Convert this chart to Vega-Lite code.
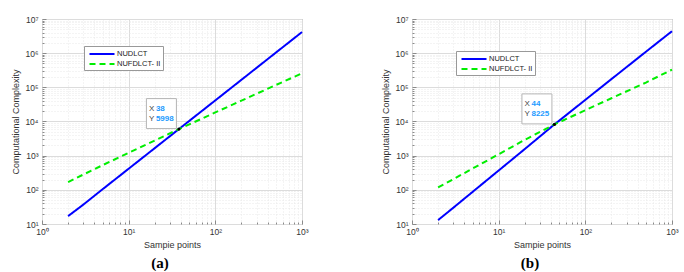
{
  "$schema": "https://vega.github.io/schema/vega-lite/v6.json",
  "padding": {"left": 11, "top": 14, "right": 0, "bottom": 0},
  "background": "white",
  "datasets": {
    "curves": [
      {"panel": "a", "series": "NUDLCT", "n": 2, "c": 17},
      {"panel": "a", "series": "NUDLCT", "n": 3, "c": 37},
      {"panel": "a", "series": "NUDLCT", "n": 5, "c": 104},
      {"panel": "a", "series": "NUDLCT", "n": 10, "c": 415},
      {"panel": "a", "series": "NUDLCT", "n": 20, "c": 1660},
      {"panel": "a", "series": "NUDLCT", "n": 38, "c": 5998},
      {"panel": "a", "series": "NUDLCT", "n": 50, "c": 10400},
      {"panel": "a", "series": "NUDLCT", "n": 100, "c": 41500},
      {"panel": "a", "series": "NUDLCT", "n": 200, "c": 166000},
      {"panel": "a", "series": "NUDLCT", "n": 500, "c": 1040000},
      {"panel": "a", "series": "NUDLCT", "n": 1000, "c": 4150000},
      {"panel": "a", "series": "NUFDLCT- II", "n": 2, "c": 168},
      {"panel": "a", "series": "NUFDLCT- II", "n": 3, "c": 280},
      {"panel": "a", "series": "NUFDLCT- II", "n": 5, "c": 526},
      {"panel": "a", "series": "NUFDLCT- II", "n": 10, "c": 1210},
      {"panel": "a", "series": "NUFDLCT- II", "n": 20, "c": 2780},
      {"panel": "a", "series": "NUFDLCT- II", "n": 38, "c": 5998},
      {"panel": "a", "series": "NUFDLCT- II", "n": 50, "c": 8200},
      {"panel": "a", "series": "NUFDLCT- II", "n": 100, "c": 18400},
      {"panel": "a", "series": "NUFDLCT- II", "n": 200, "c": 40800},
      {"panel": "a", "series": "NUFDLCT- II", "n": 500, "c": 117000},
      {"panel": "a", "series": "NUFDLCT- II", "n": 1000, "c": 257000},
      {"panel": "b", "series": "NUDLCT", "n": 2, "c": 13},
      {"panel": "b", "series": "NUDLCT", "n": 3, "c": 30},
      {"panel": "b", "series": "NUDLCT", "n": 5, "c": 87},
      {"panel": "b", "series": "NUDLCT", "n": 10, "c": 368},
      {"panel": "b", "series": "NUDLCT", "n": 20, "c": 1560},
      {"panel": "b", "series": "NUDLCT", "n": 44, "c": 8225},
      {"panel": "b", "series": "NUDLCT", "n": 50, "c": 10600},
      {"panel": "b", "series": "NUDLCT", "n": 100, "c": 43000},
      {"panel": "b", "series": "NUDLCT", "n": 200, "c": 174000},
      {"panel": "b", "series": "NUDLCT", "n": 500, "c": 1100000},
      {"panel": "b", "series": "NUDLCT", "n": 1000, "c": 4400000},
      {"panel": "b", "series": "NUFDLCT- II", "n": 2, "c": 118},
      {"panel": "b", "series": "NUFDLCT- II", "n": 3, "c": 205},
      {"panel": "b", "series": "NUFDLCT- II", "n": 5, "c": 420},
      {"panel": "b", "series": "NUFDLCT- II", "n": 10, "c": 1100},
      {"panel": "b", "series": "NUFDLCT- II", "n": 20, "c": 2900},
      {"panel": "b", "series": "NUFDLCT- II", "n": 44, "c": 8225},
      {"panel": "b", "series": "NUFDLCT- II", "n": 50, "c": 9500},
      {"panel": "b", "series": "NUFDLCT- II", "n": 100, "c": 21500},
      {"panel": "b", "series": "NUFDLCT- II", "n": 200, "c": 48000},
      {"panel": "b", "series": "NUFDLCT- II", "n": 500, "c": 138000},
      {"panel": "b", "series": "NUFDLCT- II", "n": 1000, "c": 330000}
    ],
    "tips": [
      {"panel": "a", "n": 38, "c": 5998, "xs": "38", "ys": "5998"},
      {"panel": "b", "n": 44, "c": 8225, "xs": "44", "ys": "8225"}
    ]
  },
  "spacing": 72,
  "resolve": {
    "scale": {"color": "independent", "strokeDash": "independent"},
    "legend": {"color": "independent", "strokeDash": "independent"}
  },
  "config": {
    "view": {"stroke": "#8a8a8a", "strokeWidth": 1},
    "axis": {
      "labelFont": "Liberation Sans",
      "labelFontSize": 8.5,
      "labelColor": "#333333",
      "titleFont": "Liberation Sans",
      "titleFontSize": 9,
      "titleFontWeight": "normal",
      "titleColor": "#333333",
      "domain": false,
      "tickColor": "#8a8a8a",
      "labelOverlap": false,
      "labelFlush": false,
      "labelBound": false
    },
    "legend": {
      "orient": "none",
      "symbolType": "M-0.5,0H4.5",
      "symbolSize": 100,
      "symbolStrokeWidth": 2,
      "symbolFillColor": "transparent",
      "labelFont": "Liberation Sans",
      "labelFontSize": 7.5,
      "labelColor": "#222222",
      "labelOffset": 19,
      "rowPadding": 0,
      "padding": 2,
      "strokeColor": "#999999",
      "fillColor": "white",
      "cornerRadius": 0,
      "title": null
    }
  },
  "hconcat": [
    {
      "width": 260,
      "height": 205,
      "title": {"text": "(a)", "orient": "bottom", "anchor": "middle", "font": "Liberation Serif", "fontSize": 15, "fontWeight": "bold", "color": "#000000", "offset": 6, "dx": -12},
      "encoding": {
        "x": {"field": "n", "type": "quantitative",
          "scale": {"type": "log", "domain": [1, 1000], "nice": false},
          "axis": {"title": "Sampie points", "titlePadding": 3,
            "values": [1,2,3,4,5,6,7,8,9,10,20,30,40,50,60,70,80,90,100,200,300,400,500,600,700,800,900,1000],
            "labelExpr": "abs(log(datum.value)/LN10 - round(log(datum.value)/LN10)) < 0.001 ? '10' + ['⁰','¹','²','³','⁴','⁵','⁶','⁷'][round(log(datum.value)/LN10)] : ''",
            "gridColor": {"condition": {"test": "abs(log(datum.value)/LN10 - round(log(datum.value)/LN10)) < 0.001", "value": "#dcdcdc"}, "value": "#e8e8e8"},
            "gridDash": {"condition": {"test": "abs(log(datum.value)/LN10 - round(log(datum.value)/LN10)) < 0.001", "value": []}, "value": [1, 2]},
            "tickSize": {"condition": {"test": "abs(log(datum.value)/LN10 - round(log(datum.value)/LN10)) < 0.001", "value": -4}, "value": -2},
            "labelPadding": 7}},
        "y": {"field": "c", "type": "quantitative",
          "scale": {"type": "log", "domain": [10, 10000000], "nice": false},
          "axis": {"title": "Computational Complexity", "titlePadding": 4,
            "values": [10,20,30,40,50,60,70,80,90,100,200,300,400,500,600,700,800,900,1000,2000,3000,4000,5000,6000,7000,8000,9000,10000,20000,30000,40000,50000,60000,70000,80000,90000,100000,200000,300000,400000,500000,600000,700000,800000,900000,1000000,2000000,3000000,4000000,5000000,6000000,7000000,8000000,9000000,10000000],
            "labelExpr": "abs(log(datum.value)/LN10 - round(log(datum.value)/LN10)) < 0.001 ? '10' + ['⁰','¹','²','³','⁴','⁵','⁶','⁷'][round(log(datum.value)/LN10)] : ''",
            "gridColor": {"condition": {"test": "abs(log(datum.value)/LN10 - round(log(datum.value)/LN10)) < 0.001", "value": "#dcdcdc"}, "value": "#e8e8e8"},
            "gridDash": {"condition": {"test": "abs(log(datum.value)/LN10 - round(log(datum.value)/LN10)) < 0.001", "value": []}, "value": [1, 2]},
            "tickSize": {"condition": {"test": "abs(log(datum.value)/LN10 - round(log(datum.value)/LN10)) < 0.001", "value": -4}, "value": -2},
            "labelPadding": 8}}
      },
      "layer": [
        {
          "data": {"name": "curves"},
          "transform": [{"filter": "datum.panel == 'a'"}],
          "mark": {"type": "line", "strokeWidth": 2},
          "encoding": {
            "color": {"field": "series", "type": "nominal", "scale": {"domain": ["NUDLCT", "NUFDLCT- II"], "range": ["#0000ff", "#00ee00"]}, "legend": {"legendX": 42, "legendY": 27}},
            "strokeDash": {"field": "series", "type": "nominal", "scale": {"domain": ["NUDLCT", "NUFDLCT- II"], "range": [[1, 0], [6, 4]]}, "legend": {"legendX": 42, "legendY": 27}}
          }
        },
        {
          "data": {"name": "tips"},
          "transform": [{"filter": "datum.panel == 'a'"}],
          "mark": {"type": "point", "shape": "square", "size": 900, "filled": true, "fill": "#ffffff", "stroke": "#b5b5b5", "strokeWidth": 1, "opacity": 1, "xOffset": -17.5, "yOffset": -15.5}
        },
        {
          "data": {"name": "tips"},
          "transform": [{"filter": "datum.panel == 'a'"}],
          "mark": {"type": "point", "shape": "circle", "size": 10, "filled": true, "color": "#000000", "opacity": 1}
        },
        {
          "data": {"name": "tips"},
          "transform": [{"filter": "datum.panel == 'a'"}],
          "mark": {"type": "text", "align": "left", "baseline": "middle", "font": "Liberation Sans", "fontSize": 8, "color": "#444444", "dx": -30, "dy": -20, "text": "X"}
        },
        {
          "data": {"name": "tips"},
          "transform": [{"filter": "datum.panel == 'a'"}],
          "mark": {"type": "text", "align": "left", "baseline": "middle", "font": "Liberation Sans", "fontSize": 8, "color": "#444444", "dx": -30, "dy": -10, "text": "Y"}
        },
        {
          "data": {"name": "tips"},
          "transform": [{"filter": "datum.panel == 'a'"}],
          "mark": {"type": "text", "align": "left", "baseline": "middle", "font": "Liberation Sans", "fontSize": 8, "fontWeight": "bold", "color": "#1e9bff", "dx": -23, "dy": -20},
          "encoding": {"text": {"field": "xs"}}
        },
        {
          "data": {"name": "tips"},
          "transform": [{"filter": "datum.panel == 'a'"}],
          "mark": {"type": "text", "align": "left", "baseline": "middle", "font": "Liberation Sans", "fontSize": 8, "fontWeight": "bold", "color": "#1e9bff", "dx": -23, "dy": -10},
          "encoding": {"text": {"field": "ys"}}
        }
      ]
    },
    {
      "width": 260,
      "height": 205,
      "title": {"text": "(b)", "orient": "bottom", "anchor": "middle", "font": "Liberation Serif", "fontSize": 15, "fontWeight": "bold", "color": "#000000", "offset": 6, "dx": -12},
      "encoding": {
        "x": {"field": "n", "type": "quantitative",
          "scale": {"type": "log", "domain": [1, 1000], "nice": false},
          "axis": {"title": "Sampie points", "titlePadding": 3,
            "values": [1,2,3,4,5,6,7,8,9,10,20,30,40,50,60,70,80,90,100,200,300,400,500,600,700,800,900,1000],
            "labelExpr": "abs(log(datum.value)/LN10 - round(log(datum.value)/LN10)) < 0.001 ? '10' + ['⁰','¹','²','³','⁴','⁵','⁶','⁷'][round(log(datum.value)/LN10)] : ''",
            "gridColor": {"condition": {"test": "abs(log(datum.value)/LN10 - round(log(datum.value)/LN10)) < 0.001", "value": "#dcdcdc"}, "value": "#e8e8e8"},
            "gridDash": {"condition": {"test": "abs(log(datum.value)/LN10 - round(log(datum.value)/LN10)) < 0.001", "value": []}, "value": [1, 2]},
            "tickSize": {"condition": {"test": "abs(log(datum.value)/LN10 - round(log(datum.value)/LN10)) < 0.001", "value": -4}, "value": -2},
            "labelPadding": 7}},
        "y": {"field": "c", "type": "quantitative",
          "scale": {"type": "log", "domain": [10, 10000000], "nice": false},
          "axis": {"title": "Computational Complexity", "titlePadding": 4,
            "values": [10,20,30,40,50,60,70,80,90,100,200,300,400,500,600,700,800,900,1000,2000,3000,4000,5000,6000,7000,8000,9000,10000,20000,30000,40000,50000,60000,70000,80000,90000,100000,200000,300000,400000,500000,600000,700000,800000,900000,1000000,2000000,3000000,4000000,5000000,6000000,7000000,8000000,9000000,10000000],
            "labelExpr": "abs(log(datum.value)/LN10 - round(log(datum.value)/LN10)) < 0.001 ? '10' + ['⁰','¹','²','³','⁴','⁵','⁶','⁷'][round(log(datum.value)/LN10)] : ''",
            "gridColor": {"condition": {"test": "abs(log(datum.value)/LN10 - round(log(datum.value)/LN10)) < 0.001", "value": "#dcdcdc"}, "value": "#e8e8e8"},
            "gridDash": {"condition": {"test": "abs(log(datum.value)/LN10 - round(log(datum.value)/LN10)) < 0.001", "value": []}, "value": [1, 2]},
            "tickSize": {"condition": {"test": "abs(log(datum.value)/LN10 - round(log(datum.value)/LN10)) < 0.001", "value": -4}, "value": -2},
            "labelPadding": 8}}
      },
      "layer": [
        {
          "data": {"name": "curves"},
          "transform": [{"filter": "datum.panel == 'b'"}],
          "mark": {"type": "line", "strokeWidth": 2},
          "encoding": {
            "color": {"field": "series", "type": "nominal", "scale": {"domain": ["NUDLCT", "NUFDLCT- II"], "range": ["#0000ff", "#00ee00"]}, "legend": {"legendX": 44, "legendY": 32}},
            "strokeDash": {"field": "series", "type": "nominal", "scale": {"domain": ["NUDLCT", "NUFDLCT- II"], "range": [[1, 0], [6, 4]]}, "legend": {"legendX": 44, "legendY": 32}}
          }
        },
        {
          "data": {"name": "tips"},
          "transform": [{"filter": "datum.panel == 'b'"}],
          "mark": {"type": "point", "shape": "square", "size": 900, "filled": true, "fill": "#ffffff", "stroke": "#b5b5b5", "strokeWidth": 1, "opacity": 1, "xOffset": -17.5, "yOffset": -15.5}
        },
        {
          "data": {"name": "tips"},
          "transform": [{"filter": "datum.panel == 'b'"}],
          "mark": {"type": "point", "shape": "circle", "size": 10, "filled": true, "color": "#000000", "opacity": 1}
        },
        {
          "data": {"name": "tips"},
          "transform": [{"filter": "datum.panel == 'b'"}],
          "mark": {"type": "text", "align": "left", "baseline": "middle", "font": "Liberation Sans", "fontSize": 8, "color": "#444444", "dx": -30, "dy": -20, "text": "X"}
        },
        {
          "data": {"name": "tips"},
          "transform": [{"filter": "datum.panel == 'b'"}],
          "mark": {"type": "text", "align": "left", "baseline": "middle", "font": "Liberation Sans", "fontSize": 8, "color": "#444444", "dx": -30, "dy": -10, "text": "Y"}
        },
        {
          "data": {"name": "tips"},
          "transform": [{"filter": "datum.panel == 'b'"}],
          "mark": {"type": "text", "align": "left", "baseline": "middle", "font": "Liberation Sans", "fontSize": 8, "fontWeight": "bold", "color": "#1e9bff", "dx": -23, "dy": -20},
          "encoding": {"text": {"field": "xs"}}
        },
        {
          "data": {"name": "tips"},
          "transform": [{"filter": "datum.panel == 'b'"}],
          "mark": {"type": "text", "align": "left", "baseline": "middle", "font": "Liberation Sans", "fontSize": 8, "fontWeight": "bold", "color": "#1e9bff", "dx": -23, "dy": -10},
          "encoding": {"text": {"field": "ys"}}
        }
      ]
    }
  ]
}
